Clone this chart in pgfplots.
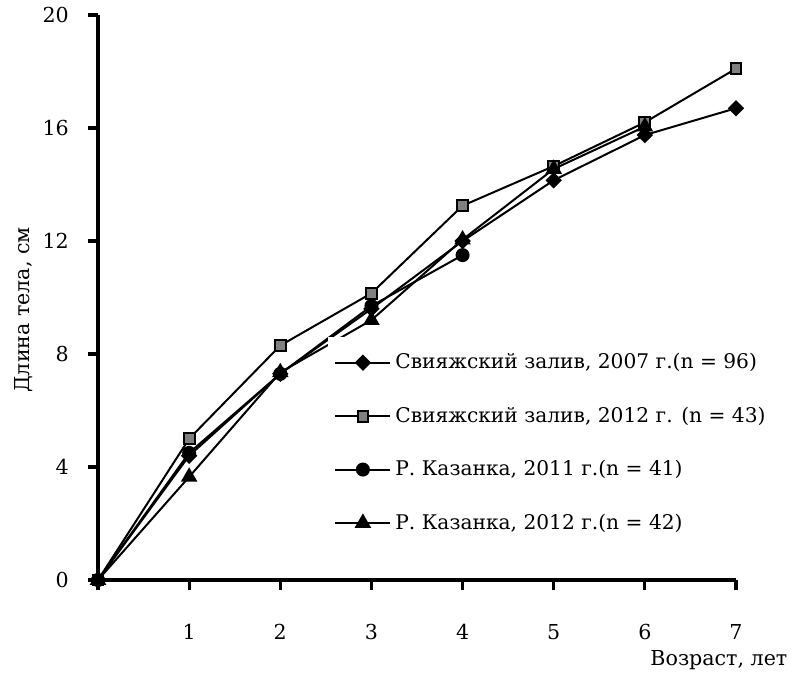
\documentclass[border=0pt]{standalone}
\usepackage{fontspec}
\setmainfont{DejaVu Serif}
\usepackage{pgfplots}
\pgfplotsset{compat=1.18}
\begin{document}
\fontsize{10.3}{12.4}\selectfont
\begin{tikzpicture}
\begin{axis}[
  scale only axis, width=319pt, height=282.5pt,
  xmin=0, xmax=7, ymin=0, ymax=20,
  axis x line*=bottom, axis y line*=left,
  axis line style={-, line width=1.6pt},
  xtick={0,1,2,3,4,5,6,7},
  xticklabels={,1,2,3,4,5,6,7},
  ytick={0,4,8,12,16,20},
  tick align=outside, major tick length=5pt,
  tick style={line width=1.6pt, black},
  /pgf/number format/assume math mode=true,
  xticklabel style={yshift=-13.5pt},
  yticklabel style={xshift=-6pt},
  ylabel={Длина тела, см},
  ylabel style={at={(axis description cs:-0.117,0.478)}, anchor=center},
  xlabel={Возраст, лет},
  xlabel style={at={(axis description cs:1.092,-0.142)}, anchor=east},
  clip=false,
  legend style={draw=none, fill=white, inner ysep=6pt, at={(axis description cs:0.3605,0.430)}, anchor=north west, row sep=13.5pt, font=\fontsize{10.1}{12.2}\selectfont},
  legend cell align=left,
  legend image code/.code={\draw[mark repeat=2,mark phase=2,#1] plot coordinates {(0pt,0pt) (13.75pt,0pt) (27.5pt,0pt)};},
  every axis plot/.append style={black, line width=1pt},
]
\addplot[mark=square*, mark size=2.4pt, mark options={solid, rotate=45, fill=black}] coordinates {
(0,0) (1,4.4) (2,7.3) (3,9.6) (4,12.0) (5,14.15) (6,15.75) (7,16.7)};
\addlegendentry{Свияжский залив, 2007 г.(n = 96)}
\addplot[mark=square*, mark size=2.7pt, mark options={solid, fill=black!50, draw=black}] coordinates {
(0,0) (1,5.0) (2,8.3) (3,10.15) (4,13.25) (5,14.65) (6,16.2) (7,18.1)};
\addlegendentry{Свияжский залив, 2012 г. (n = 43)}
\addplot[mark=*, mark size=3pt, mark options={solid, fill=black}] coordinates {
(0,0) (1,4.5) (2,7.3) (3,9.7) (4,11.5)};
\addlegendentry{Р. Казанка, 2011 г.(n = 41)}
\addplot[mark=triangle*, mark size=3.8pt, mark options={solid, fill=black}] coordinates {
(0,0) (1,3.65) (2,7.35) (3,9.2) (4,12.05) (5,14.55) (6,16.05)};
\addlegendentry{Р. Казанка, 2012 г.(n = 42)}
\end{axis}
\path ([shift={(-49pt,-46.5pt)}]current axis.south west) rectangle ([shift={(29.5pt,7.5pt)}]current axis.north east);
\end{tikzpicture}
\end{document}
